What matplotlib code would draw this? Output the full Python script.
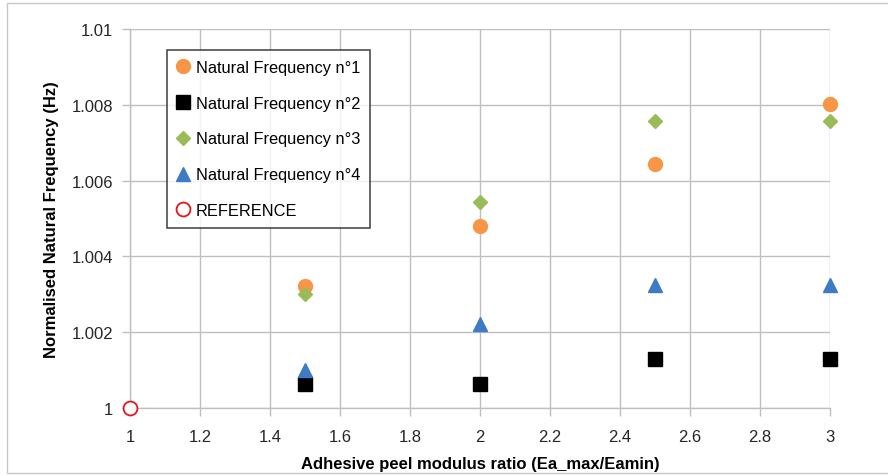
import matplotlib
matplotlib.use("Agg")
import matplotlib.pyplot as plt
from matplotlib.patches import Rectangle

plt.rcParams['font.family'] = ['Liberation Sans', 'DejaVu Sans']

x_ratio = [1.5, 2.0, 2.5, 3.0]
nf1 = [1.00321, 1.00481, 1.00643, 1.00803]
nf2 = [1.00064, 1.00064, 1.00130, 1.00130]
nf3 = [1.00301, 1.00544, 1.00756, 1.00756]
nf4 = [1.00099, 1.00221, 1.00324, 1.00324]
ref_x = [1.0]
ref_y = [1.0]

x_ticks = [1, 1.2, 1.4, 1.6, 1.8, 2, 2.2, 2.4, 2.6, 2.8, 3]
x_labels = ['1', '1.2', '1.4', '1.6', '1.8', '2', '2.2', '2.4', '2.6', '2.8', '3']
y_ticks = [1.0, 1.002, 1.004, 1.006, 1.008, 1.01]
y_labels = ['1', '1.002', '1.004', '1.006', '1.008', '1.01']

W, H = 888, 477
fig = plt.figure(figsize=(W / 100, H / 100), dpi=100)
ax = fig.add_axes([130 / W, 1 - 409 / H, 700 / W, 379 / H])

grid_c = '#bfbfbf'
ax.set_xlim(1, 3)
ax.set_ylim(1.0, 1.01)
ax.set_xticks(x_ticks)
ax.set_xticklabels(x_labels)
ax.set_yticks(y_ticks)
ax.set_yticklabels(y_labels)
ax.grid(True, color=grid_c, linewidth=1)
ax.set_axisbelow(True)
for s in ['top', 'right']:
    ax.spines[s].set_visible(False)
for s in ['left', 'bottom']:
    ax.spines[s].set_color(grid_c)
    ax.spines[s].set_linewidth(1)
ax.tick_params(axis='both', colors=grid_c, length=6, width=1, labelcolor='#262626', labelsize=12)
ax.tick_params(axis='x', pad=9)
ax.tick_params(axis='y', pad=6)

ax.plot(x_ratio, nf1, 'o', color='#F79646', markersize=10, linestyle='none', label='Natural Frequency n°1', clip_on=False)
ax.plot(x_ratio, nf2, 's', color='black', markersize=10, linestyle='none', label='Natural Frequency n°2', clip_on=False)
ax.plot(x_ratio, nf3, 'D', color='#9BBB59', markersize=7.5, linestyle='none', label='Natural Frequency n°3', clip_on=False)
ax.plot(x_ratio, nf4, '^', color='#3D7BC4', markersize=10.5, linestyle='none', label='Natural Frequency n°4', clip_on=False)
ax.plot(ref_x, ref_y, 'o', markerfacecolor='white', markeredgecolor='#E8141B', markeredgewidth=1.3,
        markersize=10, linestyle='none', label='REFERENCE', clip_on=False, zorder=5)

ax.set_xlabel('Adhesive peel modulus ratio (Ea_max/Eamin)', fontsize=12, fontweight='bold', labelpad=9)
ax.set_ylabel('Normalised Natural Frequency (Hz)', fontsize=12, fontweight='bold', labelpad=9)

leg = ax.legend(loc='upper left', bbox_to_anchor=((167 - 130) / 700, (409 - 51) / 379),
                fontsize=11.8, frameon=True, fancybox=False, shadow=False,
                handletextpad=0.35, labelspacing=1.27, borderpad=0.6, handlelength=0.8,
                borderaxespad=0)
leg.get_frame().set_edgecolor('#202020')
leg.get_frame().set_linewidth(1.2)

fig.patches.append(Rectangle((7 / W, 3 / H), (895 - 7) / W, (473 - 3) / H, transform=fig.transFigure,
                             fill=False, edgecolor='#c8c8c8', linewidth=1))

fig.savefig('out.png', dpi=100)
